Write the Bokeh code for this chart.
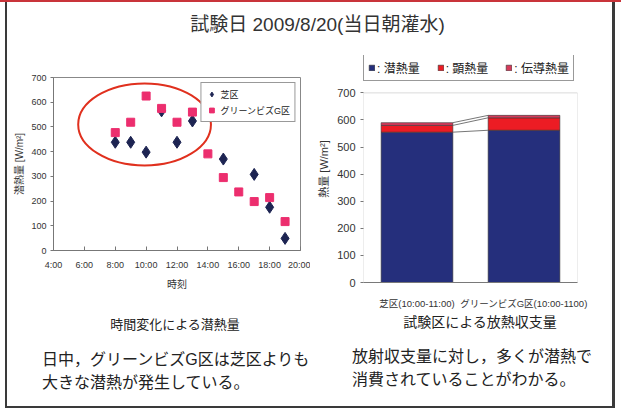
import numpy as np
from bokeh.plotting import figure
from bokeh.models import (Div, Legend, LegendItem, FixedTicker, Range1d,
                          FactorRange, ColumnDataSource, BoxAnnotation)
from bokeh.layouts import column, row
from bokeh.embed import file_html
from bokeh.resources import INLINE

# ---------------- data ----------------
title_text = "試験日 2009/8/20(当日朝灌水)"

hours = [8, 9, 10, 11, 12, 13, 14, 15, 16, 17, 18, 19]
shiba_latent = [438, 438, 398, 565, 438, 524, np.nan, 370, np.nan, 308, 175, 49]
greenbiz_latent = [477, 519, 625, 575, 519, 560, 391, 295, 237, 198, 214, 117]
x_tick_hours = [4, 6, 8, 10, 12, 14, 16, 18, 20]
y_ticks = [0, 100, 200, 300, 400, 500, 600, 700]
series_names_left = ["芝区", "グリーンビズG区"]

# highlighted morning window (annotation ellipse): centre hour, centre value, width (h), height
highlight = [9.9, 510, 8.6, 332]

zones = ["芝区(10:00-11:00)", "グリーンビズG区(10:00-1100)"]
latent = [555, 562]
sensible = [25, 46]
conduction = [10, 9]
flux_names = [": 潜熱量", ": 顕熱量", ": 伝導熱量"]

caption_left = "時間変化による潜熱量"
caption_right = "試験区による放熱収支量"
note_left = ["日中，グリーンビズG区は芝区よりも", "大きな潜熱が発生している。"]
note_right = ["放射収支量に対し，多くが潜熱で", "消費されていることがわかる。"]

FONT = "'Liberation Sans', 'Noto Sans CJK JP', sans-serif"
BORDER = "#3a3a3a"
ROW_H = 266

# ---------------- left chart ----------------
p1 = figure(width=300, height=ROW_H, x_range=Range1d(4, 20), y_range=Range1d(0, 700),
            output_backend="svg", toolbar_location=None, sizing_mode="fixed",
            min_border_left=43, min_border_right=10, min_border_top=32, min_border_bottom=61)
p1.frame_align = False
p1.xgrid.visible = False
p1.ygrid.visible = False
p1.outline_line_color = "#888888"
p1.background_fill_color = "white"
p1.border_fill_color = "white"

p1.ellipse(x=[highlight[0]], y=[highlight[1]], width=[highlight[2]], height=[highlight[3]],
           fill_alpha=0, line_color="#e0301e", line_width=2)

src1 = ColumnDataSource(dict(h=hours, s=shiba_latent, g=greenbiz_latent))
rd = p1.scatter("h", "s", source=src1, marker="diamond", size=12,
                fill_color="#1d2452", line_color="#1d2452")
rs = p1.scatter("h", "g", source=src1, marker="square", size=8,
                fill_color="#ec2e6e", line_color="#ec2e6e")

p1.xaxis.ticker = FixedTicker(ticks=x_tick_hours)
p1.xaxis.major_label_overrides = {h: f"{h}:00" for h in x_tick_hours}
p1.yaxis.ticker = FixedTicker(ticks=y_ticks)
for ax in (p1.xaxis[0], p1.yaxis[0]):
    ax.major_label_text_font = FONT
    ax.major_label_text_font_size = "9px"
    ax.major_label_text_color = "#333333"
    ax.axis_label_text_font = FONT
    ax.axis_label_text_font_size = "10px"
    ax.axis_label_text_font_style = "normal"
    ax.axis_label_text_color = "#333333"
    ax.axis_line_color = "#777777"
    ax.major_tick_line_color = "#777777"
    ax.minor_tick_line_color = None
p1.xaxis.major_tick_in = 4
p1.xaxis.major_tick_out = 0
p1.xaxis.major_label_standoff = 9
p1.xaxis.axis_label = "時刻"
p1.xaxis.axis_label_standoff = 6
p1.yaxis.major_tick_in = 0
p1.yaxis.major_tick_out = 3
p1.yaxis.major_label_standoff = 4
p1.yaxis.axis_label = "潜熱量 [W/m²]"
p1.yaxis.axis_label_standoff = 3

leg1 = Legend(items=[LegendItem(label=series_names_left[0], renderers=[rd]),
                     LegendItem(label=series_names_left[1], renderers=[rs])],
              location="top_right")
leg1.label_text_font = FONT
leg1.label_text_font_size = "9px"
leg1.label_text_color = "#222222"
leg1.label_height = 14
leg1.glyph_height = 14
leg1.glyph_width = 12
leg1.label_standoff = 3
leg1.spacing = 2
leg1.padding = 4
leg1.margin = 5
leg1.border_line_color = "#333333"
leg1.background_fill_color = "white"
leg1.background_fill_alpha = 1
p1.add_layout(leg1)

# ---------------- right chart ----------------
# the frame reaches above 700 so that the legend can sit over the plot area
p2 = figure(width=301, height=ROW_H, x_range=FactorRange(*zones), y_range=Range1d(0, 838),
            output_backend="svg", toolbar_location=None, sizing_mode="fixed",
            min_border_left=53, min_border_right=34, min_border_top=10, min_border_bottom=26)
p2.frame_align = False
p2.xgrid.visible = False
p2.ygrid.visible = False
p2.outline_line_color = None
p2.background_fill_color = "white"
p2.border_fill_color = "white"

# plot-area border (0 .. 700)
p2.add_layout(BoxAnnotation(bottom=0, top=y_ticks[-1], fill_alpha=0,
                            line_color="#888888", line_width=1))

src2 = ColumnDataSource(dict(zone=zones, latent=latent, sensible=sensible, conduction=conduction))
bar_colors = ["#252f7c", "#ec1c24", "#d63a5a"]
bars = p2.vbar_stack(["latent", "sensible", "conduction"], x="zone", width=0.67,
                     source=src2, color=bar_colors, line_color="#333333", line_width=0.6)

# series lines joining the top of each stacked layer between the two columns
cum = np.cumsum(np.array([latent, sensible, conduction]), axis=0)
seg = ColumnDataSource(dict(
    x0=[(zones[0], 0.335)] * 3, y0=[float(v) for v in cum[:, 0]],
    x1=[(zones[1], -0.335)] * 3, y1=[float(v) for v in cum[:, 1]]))
p2.segment("x0", "y0", "x1", "y1", source=seg, line_color="#777777", line_width=1)

p2.yaxis.ticker = FixedTicker(ticks=y_ticks)
for ax in (p2.xaxis[0], p2.yaxis[0]):
    ax.major_label_text_font = FONT
    ax.major_label_text_color = "#333333"
    ax.axis_label_text_font = FONT
    ax.axis_label_text_font_size = "11px"
    ax.axis_label_text_font_style = "normal"
    ax.axis_label_text_color = "#333333"
    ax.axis_line_color = "#777777"
    ax.major_tick_line_color = "#777777"
    ax.minor_tick_line_color = None
p2.yaxis.axis_line_color = None
p2.xaxis.major_label_text_font_size = "9.5px"
p2.xaxis.major_tick_line_color = None
p2.xaxis.major_label_standoff = 9
p2.yaxis.major_label_text_font_size = "11px"
p2.yaxis.major_tick_in = 0
p2.yaxis.major_tick_out = 3
p2.yaxis.major_label_standoff = 5
p2.yaxis.axis_label = "熱量 [W/m²]"
p2.yaxis.axis_label_standoff = 4

leg2 = Legend(items=[LegendItem(label=n, renderers=[r]) for n, r in zip(flux_names, bars)],
              orientation="horizontal", location=(0, 201))
leg2.label_text_font = FONT
leg2.label_text_font_size = "12px"
leg2.label_text_color = "#222222"
leg2.label_height = 13
leg2.glyph_height = 7
leg2.glyph_width = 7
leg2.label_standoff = 2
leg2.spacing = 17
leg2.padding = 4
leg2.margin = 0
leg2.border_line_color = "#333333"
leg2.background_fill_color = "white"
p2.add_layout(leg2)

# ---------------- slide frame and texts ----------------
title_div = Div(width=621, height=45, margin=0, text=f"""
<div style="position:relative;width:621px;height:45px;overflow:hidden;background:white;">
  <div style="position:absolute;left:0;top:0;width:621px;height:2px;background:#c9343a;"></div>
  <div style="position:absolute;left:5px;top:2px;width:2px;height:43px;background:{BORDER};"></div>
  <div style="position:absolute;left:612px;top:2px;width:3px;height:43px;background:{BORDER};"></div>
  <div style="position:absolute;left:12px;top:13px;width:611px;text-align:center;line-height:24px;
              font-family:{FONT};font-size:19px;color:#333;white-space:nowrap;">{title_text}</div>
</div>""")

spacer_l = Div(width=10, height=ROW_H, margin=0, text=f"""
<div style="position:relative;width:10px;height:{ROW_H}px;background:white;">
  <div style="position:absolute;left:5px;top:0;width:2px;height:{ROW_H}px;background:{BORDER};"></div>
</div>""")
spacer_r = Div(width=10, height=ROW_H, margin=0, text=f"""
<div style="position:relative;width:10px;height:{ROW_H}px;background:white;">
  <div style="position:absolute;left:1px;top:0;width:3px;height:{ROW_H}px;background:{BORDER};"></div>
</div>""")

def line_div(txt, left, top, size):
    return (f'<div style="position:absolute;left:{left}px;top:{top}px;line-height:22px;'
            f'font-family:{FONT};font-size:{size}px;color:#222;white-space:nowrap;">{txt}</div>')

BOT_H = 410 - 45 - ROW_H
bottom_html = f"""
<div style="position:relative;width:621px;height:{BOT_H}px;overflow:hidden;background:white;">
  <div style="position:absolute;left:5px;top:0;width:2px;height:{BOT_H - 2}px;background:{BORDER};"></div>
  <div style="position:absolute;left:612px;top:0;width:3px;height:{BOT_H - 2}px;background:{BORDER};"></div>
  <div style="position:absolute;left:5px;top:{BOT_H - 4}px;width:610px;height:2px;background:{BORDER};"></div>
  <div style="position:absolute;left:60px;top:4px;width:230px;text-align:center;line-height:20px;
              font-family:{FONT};font-size:13px;color:#222;">{caption_left}</div>
  <div style="position:absolute;left:365px;top:1px;width:230px;text-align:center;line-height:20px;
              font-family:{FONT};font-size:14px;color:#222;">{caption_right}</div>
  {line_div(note_left[0], 42, 38, 16)}
  {line_div(note_left[1], 42, 61, 16)}
  {line_div(note_right[0], 352, 35, 16)}
  {line_div(note_right[1], 352, 58, 16)}
</div>"""
bottom_div = Div(width=621, height=BOT_H, margin=0, text=bottom_html)

charts = row(spacer_l, p1, p2, spacer_r, width=621, height=ROW_H, sizing_mode="fixed")
layout = column(title_div, charts, bottom_div, width=621, height=410, sizing_mode="fixed")

open("out.html", "w").write(file_html(layout, INLINE))
